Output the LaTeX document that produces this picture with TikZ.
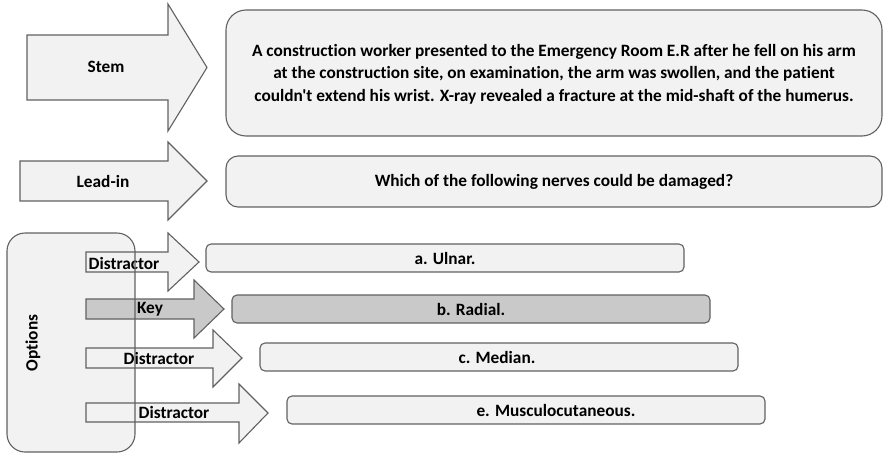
\documentclass[tikz,border=0pt]{standalone}
\usepackage{fontspec}
\setmainfont{Carlito}[Ligatures={NoCommon,TeXOff}]
\begin{document}
\begin{tikzpicture}[x=1pt,y=-1pt,
  every node/.style={font=\bfseries\fontsize{17.3}{22.5}\selectfont, text=black},
  shp/.style={draw=black!62, line width=1.1pt, fill=black!5},
  keyshp/.style={draw=black!62, line width=1.1pt, fill=black!21},
  lbl/.style={inner sep=0pt, anchor=center}]
\useasboundingbox (0,0) rectangle (884,453);
% Stem arrow
\draw[shp] (27,35) -- (168,35) -- (168,4) -- (207,67.5) -- (168,131) -- (168,100) -- (27,100) -- cycle;
\node[lbl] (stem) at (106,67) {Stem};
% Stem box
\draw[shp, rounded corners=20pt] (226,10) rectangle (882,136);
\node[lbl, align=center] (stemtxt) at (554,74) {A construction worker presented to the Emergency Room E.R after he fell on his arm\\at the construction site, on examination, the arm was swollen, and the patient\\couldn't extend his wrist. X-ray revealed a fracture at the mid-shaft of the humerus.};
% Lead-in arrow
\draw[shp] (20,161) -- (168,161) -- (168,142) -- (207,181) -- (168,220) -- (168,201) -- (20,201) -- cycle;
\node[lbl] (leadin) at (103,181) {Lead-in};
\draw[shp, rounded corners=12pt] (226,156) rectangle (882,207);
\node[lbl] (leadtxt) at (554,182) {Which of the following nerves could be damaged?};
% Options box background
\fill[black!5, rounded corners=18pt] (7,233) rectangle (135,452);
% option arrows
\draw[shp] (86,252) -- (168,252) -- (168,233) -- (199,262) -- (168,291) -- (168,272) -- (86,272) -- cycle;
\node[lbl] (d1) at (124,263) {Distractor};
\draw[keyshp] (86,299) -- (194,299) -- (194,280) -- (224,309) -- (194,338) -- (194,319) -- (86,319) -- cycle;
\node[lbl] (key) at (150,309) {Key};
\draw[shp] (86,348) -- (213,348) -- (213,330) -- (242,358) -- (213,387) -- (213,368) -- (86,368) -- cycle;
\node[lbl] (d2) at (159,358) {Distractor};
\draw[shp] (86,403) -- (239,403) -- (239,384) -- (268,413) -- (239,443) -- (239,422) -- (86,422) -- cycle;
\node[lbl] (d3) at (174,412) {Distractor};
% Options box outline
\draw[draw=black!62, line width=1.1pt, rounded corners=18pt] (7,233) rectangle (135,452);
\node[lbl, rotate=90] (opts) at (33,343) {Options};
% answer boxes
\draw[shp, rounded corners=5pt] (206,244) rectangle (684,272);
\node[lbl] (a) at (445,258) {a. Ulnar.};
\draw[keyshp, rounded corners=5pt] (232,295) rectangle (710,323);
\node[lbl] (b) at (471,309) {b. Radial.};
\draw[shp, rounded corners=5pt] (260,343) rectangle (738,371);
\node[lbl] (c) at (497,357) {c. Median.};
\draw[shp, rounded corners=5pt] (287,396) rectangle (765,424);
\node[lbl] (e) at (556,410) {e. Musculocutaneous.};
\end{tikzpicture}
\end{document}
